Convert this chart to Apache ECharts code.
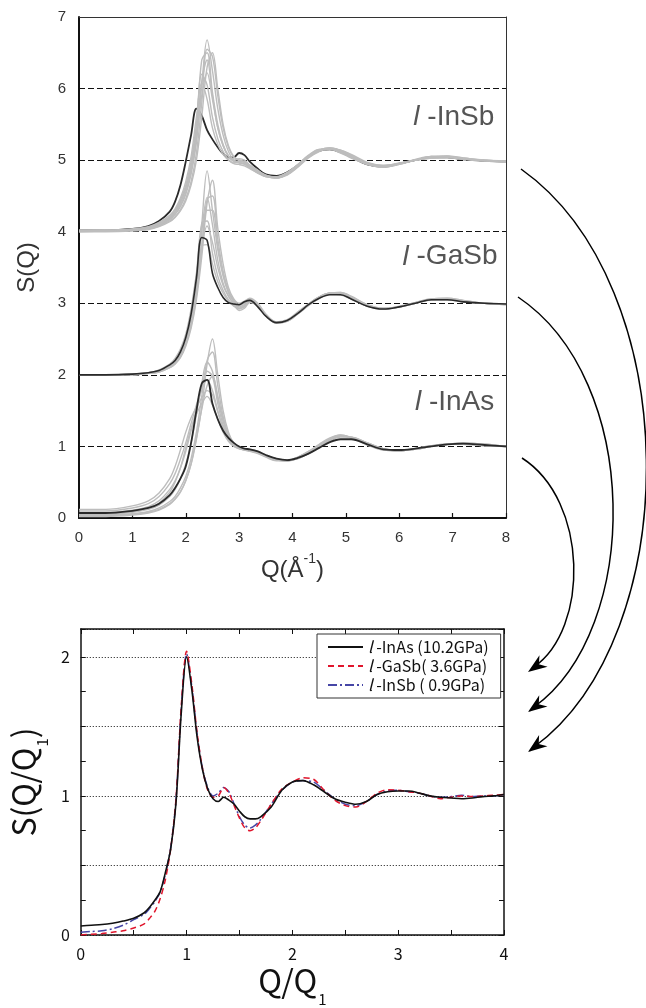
<!DOCTYPE html>
<html><head><meta charset="utf-8">
<script src="https://cdn.jsdelivr.net/npm/echarts@6/dist/echarts.min.js"></script>
<style>html,body{margin:0;padding:0;background:#fff}#c{width:646px;height:1008px}</style>
</head><body><div id="c"></div>
<script>
// ---------- top panel: S(Q) vs Q (Å^-1) ----------
const qTop = [0,0.5,1.0,1.3,1.5,1.7,1.8,1.9,2.0,2.1,2.2,2.3,2.4,2.5,2.6,2.7,2.8,2.9,3.0,3.1,3.2,3.35,3.5,3.7,3.9,4.1,4.3,4.5,4.7,4.9,5.1,5.4,5.7,6.0,6.3,6.6,6.9,7.2,7.6,8.0];
const xTicksTop = [0,1,2,3,4,5,6,7,8];
const yTicksTop = [0,1,2,3,4,5,6,7];

const inSbBlack = [4.02,4.02,4.04,4.08,4.15,4.28,4.42,4.65,4.98,5.35,5.72,5.62,5.42,5.29,5.18,5.09,5.04,5.04,5.1,5.07,4.98,4.88,4.8,4.78,4.83,4.93,5.05,5.13,5.15,5.11,5.04,4.94,4.91,4.95,5.0,5.04,5.04,5.01,4.99,4.98];
const inSbGray = [
 [4.01,4.01,4.02,4.05,4.09,4.17,4.24,4.35,4.52,4.80,5.25,6.05,6.68,6.25,5.72,5.35,5.12,5.0,4.98,4.97,4.92,4.85,4.79,4.75,4.8,4.92,5.05,5.14,5.17,5.13,5.06,4.95,4.91,4.94,5.0,5.04,5.05,5.02,4.99,4.98],
 [4.0,4.01,4.02,4.04,4.08,4.15,4.21,4.31,4.46,4.7,5.1,5.8,6.55,6.45,5.9,5.45,5.18,5.04,5.0,4.98,4.93,4.86,4.78,4.75,4.8,4.91,5.04,5.13,5.17,5.14,5.07,4.96,4.92,4.95,5.0,5.05,5.06,5.03,5.0,4.99],
 [4.01,4.02,4.03,4.06,4.1,4.19,4.27,4.4,4.6,4.92,5.45,6.4,6.5,5.95,5.5,5.22,5.06,4.99,4.97,4.95,4.9,4.83,4.77,4.76,4.82,4.93,5.06,5.15,5.16,5.12,5.05,4.95,4.9,4.94,5.0,5.03,5.04,5.02,4.99,4.98],
 [4.02,4.02,4.03,4.06,4.11,4.2,4.28,4.41,4.6,4.9,5.38,6.1,6.4,5.9,5.45,5.2,5.05,4.98,4.96,4.94,4.89,4.82,4.77,4.75,4.81,4.93,5.06,5.14,5.16,5.12,5.05,4.94,4.9,4.95,5.01,5.05,5.04,5.01,4.99,4.97],
 [4.01,4.02,4.03,4.06,4.12,4.21,4.3,4.44,4.65,4.98,5.5,6.2,6.05,5.6,5.3,5.12,5.01,4.95,4.94,4.92,4.88,4.82,4.77,4.76,4.82,4.94,5.07,5.15,5.15,5.11,5.04,4.95,4.92,4.96,5.0,5.04,5.05,5.02,5.0,4.99],
 [4.02,4.02,4.04,4.07,4.13,4.23,4.32,4.47,4.7,5.05,5.6,6.08,5.85,5.45,5.22,5.08,5.0,4.96,4.99,4.98,4.91,4.83,4.78,4.77,4.83,4.94,5.06,5.14,5.15,5.1,5.03,4.94,4.91,4.95,5.0,5.03,5.04,5.01,4.99,4.98],
 [4.0,4.0,4.01,4.03,4.07,4.14,4.2,4.29,4.43,4.65,5.0,5.6,6.3,6.5,6.0,5.5,5.2,5.05,5.0,4.97,4.92,4.84,4.78,4.75,4.79,4.9,5.03,5.12,5.16,5.14,5.08,4.97,4.93,4.95,5.0,5.04,5.05,5.03,5.0,4.99],
 [4.01,4.01,4.02,4.05,4.1,4.18,4.25,4.37,4.55,4.85,5.3,5.9,6.22,5.85,5.45,5.2,5.06,5.0,5.02,5.0,4.93,4.85,4.79,4.76,4.8,4.92,5.05,5.14,5.17,5.13,5.06,4.95,4.91,4.95,5.0,5.05,5.05,5.02,5.0,4.98]
];

const gaSbBlack = [2.0,2.0,2.01,2.03,2.06,2.14,2.2,2.32,2.52,2.85,3.35,3.92,3.88,3.42,3.22,3.08,3.01,2.99,2.98,3.02,3.04,2.95,2.82,2.73,2.76,2.86,2.98,3.07,3.12,3.12,3.06,2.96,2.92,2.95,3.0,3.05,3.05,3.02,3.0,2.99];
const gaSbGray = [
 [2.0,2.0,2.01,2.03,2.05,2.12,2.18,2.28,2.46,2.76,3.25,4.1,4.85,4.3,3.75,3.38,3.15,3.03,2.98,3.02,3.06,2.98,2.84,2.73,2.75,2.86,2.98,3.08,3.14,3.14,3.08,2.97,2.92,2.95,3.01,3.06,3.06,3.03,3.0,2.99],
 [2.0,2.0,2.0,2.02,2.04,2.1,2.15,2.24,2.4,2.65,3.05,3.65,4.4,4.72,4.05,3.55,3.22,3.06,3.0,3.03,3.07,3.0,2.85,2.74,2.75,2.85,2.97,3.07,3.14,3.15,3.1,2.98,2.93,2.95,3.0,3.06,3.07,3.04,3.0,2.99],
 [2.0,2.0,2.01,2.03,2.06,2.13,2.2,2.31,2.5,2.82,3.3,4.0,4.48,4.1,3.6,3.28,3.1,3.0,2.95,2.98,3.04,2.97,2.83,2.73,2.76,2.87,2.99,3.09,3.14,3.13,3.07,2.96,2.92,2.95,3.01,3.05,3.06,3.03,3.0,2.98],
 [2.0,2.0,2.01,2.02,2.05,2.11,2.17,2.26,2.43,2.7,3.12,3.75,4.3,4.3,3.8,3.4,3.15,3.02,2.93,2.95,3.02,2.96,2.83,2.72,2.75,2.86,2.98,3.08,3.14,3.14,3.08,2.97,2.92,2.95,3.0,3.05,3.06,3.03,3.0,2.99],
 [2.0,2.0,2.01,2.03,2.06,2.14,2.21,2.33,2.53,2.88,3.42,4.12,4.15,3.7,3.38,3.18,3.05,2.97,2.92,2.96,3.03,2.97,2.83,2.74,2.77,2.88,2.99,3.09,3.13,3.12,3.06,2.96,2.92,2.96,3.01,3.05,3.05,3.02,3.0,2.99],
 [2.0,2.0,2.0,2.02,2.05,2.11,2.17,2.27,2.45,2.75,3.2,3.78,4.08,3.85,3.5,3.25,3.1,2.99,2.9,2.93,3.01,2.96,2.84,2.73,2.75,2.86,2.98,3.08,3.14,3.14,3.08,2.97,2.92,2.95,3.0,3.05,3.06,3.03,3.0,2.99],
 [2.0,2.0,2.01,2.03,2.07,2.15,2.23,2.36,2.57,2.92,3.4,3.8,3.82,3.55,3.3,3.14,3.03,2.96,2.93,2.97,3.04,2.97,2.83,2.73,2.76,2.87,2.99,3.09,3.14,3.13,3.07,2.96,2.92,2.95,3.01,3.05,3.05,3.02,3.0,2.98],
 [2.0,2.0,2.0,2.02,2.04,2.1,2.16,2.25,2.42,2.68,3.1,3.8,4.45,4.5,3.9,3.45,3.18,3.04,2.97,3.0,3.05,2.98,2.84,2.73,2.75,2.85,2.97,3.07,3.14,3.15,3.09,2.98,2.93,2.95,3.0,3.06,3.07,3.04,3.0,2.99]
];

const inAsBlack = [0.07,0.07,0.1,0.14,0.2,0.32,0.42,0.55,0.72,1.05,1.5,1.88,1.93,1.6,1.38,1.22,1.12,1.05,1.0,0.97,0.96,0.93,0.88,0.83,0.81,0.84,0.9,0.98,1.06,1.1,1.1,1.03,0.96,0.95,0.97,1.0,1.03,1.04,1.02,1.0];
const inAsGray = [
 [0.03,0.03,0.05,0.08,0.12,0.2,0.27,0.37,0.52,0.75,1.1,1.55,2.15,2.5,2.0,1.5,1.2,1.05,0.99,0.97,0.96,0.93,0.88,0.83,0.81,0.83,0.9,0.99,1.08,1.13,1.13,1.05,0.96,0.94,0.96,1.0,1.03,1.05,1.03,1.0],
 [0.04,0.04,0.06,0.09,0.14,0.23,0.3,0.42,0.58,0.83,1.2,1.7,2.2,2.32,1.85,1.42,1.17,1.04,0.99,0.97,0.95,0.92,0.87,0.82,0.8,0.83,0.9,0.99,1.08,1.14,1.13,1.05,0.97,0.94,0.96,1.0,1.03,1.04,1.03,1.0],
 [0.05,0.05,0.08,0.12,0.18,0.3,0.4,0.55,0.75,1.05,1.45,1.88,2.18,2.05,1.68,1.35,1.14,1.04,0.98,0.96,0.95,0.92,0.87,0.82,0.8,0.84,0.91,1.0,1.1,1.15,1.13,1.04,0.96,0.94,0.96,1.0,1.03,1.04,1.02,1.0],
 [0.08,0.08,0.11,0.16,0.24,0.4,0.52,0.7,0.93,1.22,1.52,1.8,2.05,1.98,1.6,1.3,1.12,1.02,0.98,0.96,0.94,0.91,0.86,0.81,0.8,0.84,0.92,1.01,1.1,1.15,1.12,1.03,0.96,0.94,0.97,1.0,1.03,1.04,1.02,1.0],
 [0.1,0.1,0.14,0.2,0.3,0.48,0.62,0.82,1.05,1.32,1.58,1.8,1.93,1.78,1.5,1.26,1.1,1.01,0.97,0.95,0.94,0.91,0.86,0.81,0.8,0.85,0.93,1.02,1.11,1.16,1.12,1.03,0.95,0.94,0.97,1.01,1.03,1.03,1.01,1.0],
 [0.12,0.12,0.17,0.24,0.35,0.55,0.72,0.95,1.2,1.4,1.55,1.68,1.78,1.72,1.48,1.25,1.1,1.01,0.97,0.95,0.93,0.9,0.85,0.8,0.8,0.85,0.93,1.03,1.12,1.16,1.12,1.02,0.95,0.94,0.97,1.01,1.03,1.03,1.01,1.0],
 [0.06,0.06,0.09,0.14,0.21,0.36,0.5,0.7,0.98,1.25,1.45,1.6,1.7,1.58,1.38,1.2,1.07,1.0,0.97,0.95,0.94,0.91,0.86,0.81,0.81,0.85,0.92,1.01,1.1,1.14,1.12,1.04,0.96,0.94,0.96,1.0,1.03,1.04,1.02,1.0],
 [0.02,0.02,0.04,0.07,0.11,0.19,0.26,0.36,0.52,0.76,1.12,1.52,1.85,1.98,1.7,1.38,1.15,1.03,0.98,0.96,0.95,0.92,0.87,0.82,0.8,0.83,0.9,0.99,1.08,1.14,1.13,1.05,0.97,0.94,0.96,1.0,1.03,1.05,1.03,1.0]
];
const panelLabels = ['l-InSb','l-GaSb','l-InAs'];
const panelLabelPos = [[7.78,5.6],[7.84,3.65],[7.78,1.62]];

// ---------- bottom panel: S(Q/Q1) vs Q/Q1 ----------
const qq = [0,0.1,0.2,0.3,0.4,0.5,0.6,0.65,0.7,0.75,0.8,0.85,0.9,0.95,1.0,1.05,1.1,1.15,1.2,1.25,1.3,1.35,1.4,1.45,1.5,1.55,1.6,1.65,1.7,1.8,1.9,2.0,2.1,2.2,2.3,2.4,2.5,2.6,2.7,2.8,2.9,3.0,3.1,3.2,3.3,3.4,3.5,3.6,3.7,3.8,3.9,4.0];
const sInAs = [0.065,0.07,0.075,0.085,0.1,0.12,0.16,0.2,0.25,0.31,0.45,0.62,0.95,1.6,2.0,1.76,1.42,1.19,1.05,0.98,0.96,0.99,0.97,0.94,0.89,0.85,0.835,0.835,0.85,0.92,1.04,1.1,1.11,1.08,1.03,0.98,0.955,0.94,0.96,1.01,1.03,1.035,1.035,1.02,1.0,0.99,0.985,0.98,0.985,0.995,1.0,1.01];
const sGaSb = [0.0,0.005,0.01,0.02,0.03,0.05,0.08,0.12,0.17,0.26,0.4,0.62,0.98,1.65,2.04,1.8,1.45,1.2,1.04,0.99,1.0,1.06,1.02,0.93,0.84,0.77,0.75,0.77,0.82,0.94,1.05,1.1,1.13,1.12,1.04,0.97,0.93,0.92,0.96,1.02,1.045,1.04,1.03,1.02,1.0,0.98,0.99,1.0,0.995,1.0,1.005,1.01];
const sInSb = [0.02,0.025,0.03,0.045,0.07,0.11,0.15,0.19,0.24,0.31,0.44,0.63,0.97,1.63,2.02,1.78,1.44,1.2,1.06,1.0,1.02,1.06,1.03,0.94,0.85,0.79,0.77,0.79,0.83,0.94,1.04,1.1,1.11,1.1,1.04,0.98,0.94,0.93,0.96,1.01,1.035,1.04,1.03,1.02,1.0,0.99,0.995,1.005,0.995,1.0,1.0,1.01];
const legendNames = ['l-InAs (10.2GPa)','l-GaSb( 3.6GPa)','l-InSb ( 0.9GPa)'];

// ---------- build ----------
const chart = echarts.init(document.getElementById('c'), null, {renderer:'canvas'});
const pairs = (xs, ys) => xs.map((x,i)=>[x, ys[i]]);
const series = [];
function topLine(ys, color, width, z){
  series.push({type:'line', xAxisIndex:0, yAxisIndex:0, data:pairs(qTop, ys), symbol:'none', showSymbol:false,
    smooth:0.35, silent:true, z:z, lineStyle:{color:color, width:width}});
}
topLine(inSbBlack, '#2a2a2a', 1.8, 2);
[inSbGray, gaSbGray, inAsGray].forEach(g => g.forEach(ys => topLine(ys, '#bdbdbd', 1.4, 3)));
topLine(gaSbBlack, '#2a2a2a', 1.6, 4);
topLine(inAsBlack, '#2a2a2a', 1.8, 4);
series.push({type:'scatter', xAxisIndex:0, yAxisIndex:0, symbolSize:0, silent:true, z:5,
  data: panelLabelPos.map((p,i)=>({value:p, name:panelLabels[i]})),
  label:{show:true, position:'left', distance:0,
    formatter: p => '{it|' + p.name.slice(0,1) + '}{n| ' + p.name.slice(1) + '}',
    rich:{it:{fontFamily:'Liberation Sans', fontStyle:'italic', fontSize:28, color:'#2a2a2a'},
          n:{fontFamily:'Liberation Sans', fontSize:28, color:'#2a2a2a'}}}});

const botStyles = [
  {color:'#111', type:'solid', width:1.6},
  {color:'#e0152c', type:[6,4], width:1.5},
  {color:'#4646a6', type:[9,3,2,3], width:1.5}
];
[sInAs, sGaSb, sInSb].forEach((ys,i)=>{
  series.push({type:'line', name:legendNames[i], xAxisIndex:2, yAxisIndex:2, data:pairs(qq, ys),
    symbol:'none', showSymbol:false, smooth:0.3, silent:true, z:3+ (2-i),
    lineStyle:botStyles[i], itemStyle:{color:botStyles[i].color}});
});

// arrows (annotation)
const arrows = [
  {s:[522,458], c1:[589,501], c2:[589,629], e:[528,672]},
  {s:[518,297], c1:[642,380], c2:[642,629], e:[528,712]},
  {s:[521,169], c1:[686,286], c2:[686,635], e:[528,752]}
];
const graphic = [];
arrows.forEach(a=>{
  graphic.push({type:'bezierCurve', silent:true, shape:{x1:a.s[0],y1:a.s[1],cpx1:a.c1[0],cpy1:a.c1[1],cpx2:a.c2[0],cpy2:a.c2[1],x2:a.e[0]+6,y2:a.e[1]-5},
    style:{stroke:'#000', lineWidth:1.5, fill:null}});
  const dx=a.e[0]-a.c2[0], dy=a.e[1]-a.c2[1], L=Math.hypot(dx,dy), ux=dx/L, uy=dy/L, px=-uy, py=ux;
  const len=19, w=7, bx=a.e[0]-ux*len, by=a.e[1]-uy*len, mx=a.e[0]-ux*len*0.7, my=a.e[1]-uy*len*0.7;
  graphic.push({type:'polygon', silent:true, shape:{points:[a.e,[bx+px*w,by+py*w],[mx,my],[bx-px*w,by-py*w]]}, style:{fill:'#000'}});
});

const topFont = {fontFamily:'Liberation Sans', fontSize:15, color:'#333'};
const jpFont = 'Noto Sans CJK JP';
const intOnly = v => (Math.abs(v - Math.round(v)) < 1e-9 ? String(Math.round(v)) : '');
const subRich = {n:{fontFamily:jpFont, fontSize:32, color:'#111', lineHeight:34, verticalAlign:'top'},
                 s:{fontFamily:jpFont, fontSize:15, color:'#111', lineHeight:15, padding:[27,0,0,1], verticalAlign:'top'}};

const option = {
  animation:false,
  backgroundColor:'#fff',
  grid:[
    {left:79, top:17, width:427, height:501},
    {left:77, top:629, width:427, height:313}
  ],
  xAxis:[
    {gridIndex:0, type:'value', min:xTicksTop[0], max:xTicksTop[xTicksTop.length-1], interval:1, position:'bottom',
     axisLine:{onZero:false, lineStyle:{color:'#111', width:2}}, axisTick:{inside:true, length:5, lineStyle:{color:'#111', width:1.2}},
     axisLabel:Object.assign({margin:12}, topFont), splitLine:{show:false},
     name:'{n|Q(Å}{s|-1}{n|)}', nameLocation:'middle', nameGap:34,
     nameTextStyle:{rich:{n:{fontFamily:'Liberation Sans', fontSize:24, color:'#333', lineHeight:30, verticalAlign:'bottom'},
                          s:{fontFamily:'Liberation Sans', fontSize:14, color:'#333', lineHeight:14, verticalAlign:'top'}}}},
    {gridIndex:0, type:'value', min:0, max:8, position:'top', axisLine:{onZero:false, lineStyle:{color:'#333', width:1}},
     axisTick:{show:false}, axisLabel:{show:false}, splitLine:{show:false}},
    {gridIndex:1, type:'value', min:0, max:4, interval:0.5, position:'bottom',
     axisLine:{onZero:false, lineStyle:{color:'#111', width:1.5}}, axisTick:{inside:true, length:5, lineStyle:{color:'#111'}},
     axisLabel:{margin:11, fontFamily:jpFont, fontSize:16, color:'#111', formatter:intOnly}, splitLine:{show:false},
     name:'{n|Q/Q}{s|1}', nameLocation:'middle', nameGap:30, nameTextStyle:{rich:subRich}},
    {gridIndex:1, type:'value', min:0, max:4, interval:0.5, position:'top',
     axisLine:{onZero:false, lineStyle:{color:'#111', width:1.5}}, axisTick:{inside:true, length:5, lineStyle:{color:'#111'}},
     axisLabel:{show:false}, splitLine:{show:false}}
  ],
  yAxis:[
    {gridIndex:0, type:'value', min:yTicksTop[0], max:yTicksTop[yTicksTop.length-1], interval:1, position:'left',
     axisLine:{show:true, onZero:false, lineStyle:{color:'#111', width:2}}, axisTick:{show:false},
     axisLabel:Object.assign({margin:13}, topFont),
     splitLine:{show:true, lineStyle:{color:'#111', type:[6,3], width:1.2}},
     name:'S(Q)', nameLocation:'middle', nameRotate:90, nameGap:40,
     nameTextStyle:{fontFamily:'Liberation Sans', fontSize:24, color:'#333'}},
    {gridIndex:0, type:'value', min:0, max:7, position:'right', axisLine:{show:true, onZero:false, lineStyle:{color:'#333', width:1}},
     axisTick:{show:false}, axisLabel:{show:false}, splitLine:{show:false}},
    {gridIndex:1, type:'value', min:0, max:2.2, interval:0.5, position:'left',
     axisLine:{show:true, onZero:false, lineStyle:{color:'#111', width:1.5}}, axisTick:{inside:true, length:5, lineStyle:{color:'#111'}},
     minorTick:{show:true, splitNumber:2, length:5, lineStyle:{color:'#111'}},
     axisLabel:{margin:11, fontFamily:jpFont, fontSize:16, color:'#111', formatter:intOnly},
     splitLine:{show:true, lineStyle:{color:'#111', type:[1,2], width:1}},
     name:'{n|S(Q/Q}{s|1}{n|)}', nameLocation:'middle', nameRotate:90, nameGap:28, nameTextStyle:{rich:subRich}},
    {gridIndex:1, type:'value', min:0, max:2.2, interval:0.5, position:'right',
     axisLine:{show:true, onZero:false, lineStyle:{color:'#111', width:1.5}}, axisTick:{inside:true, length:5, lineStyle:{color:'#111'}},
     minorTick:{show:true, splitNumber:2, length:5, lineStyle:{color:'#111'}},
     axisLabel:{show:false}, splitLine:{show:false}}
  ],
  legend:{data:legendNames, orient:'vertical', left:317, top:634, padding:[5,12,5,10], itemGap:3,
    itemWidth:35, itemHeight:14, borderColor:'#333', borderWidth:1, backgroundColor:'#fff', selectedMode:false,
    itemStyle:{opacity:0},
    textStyle:{fontFamily:jpFont, fontSize:16, color:'#111',
      rich:{it:{fontFamily:jpFont, fontStyle:'italic', fontSize:16, color:'#111'}, t:{fontFamily:jpFont, fontSize:16, color:'#111'}}},
    formatter: name => '{it|' + name.slice(0,1) + '}{t| ' + name.slice(1) + '}'},
  graphic: graphic,
  series: series
};
chart.setOption(option);
</script></body></html>
